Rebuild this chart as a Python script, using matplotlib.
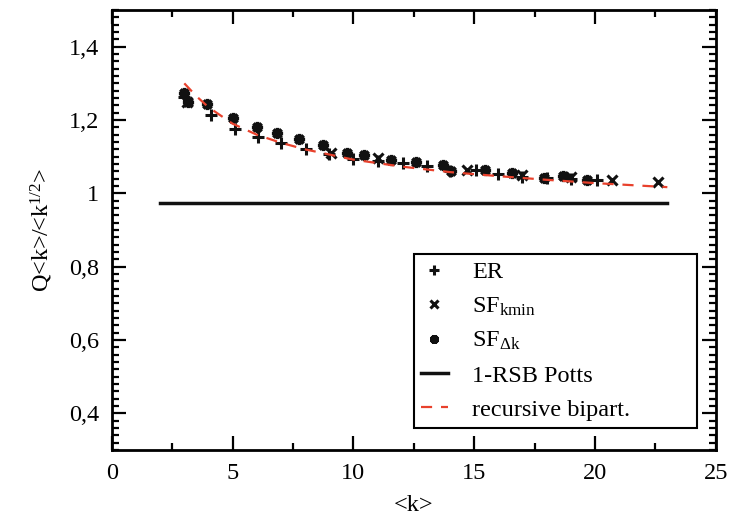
import matplotlib
matplotlib.use("Agg")
import matplotlib.pyplot as plt
from matplotlib.ticker import MultipleLocator, FuncFormatter

plt.rcParams['font.family'] = 'Liberation Serif'
plt.rcParams['mathtext.fontset'] = 'custom'
plt.rcParams['mathtext.rm'] = 'Liberation Serif'
plt.rcParams['mathtext.it'] = 'Liberation Serif:italic'

# ER graphs
er_k = [3.0, 4.1, 5.09, 6.04, 7.0, 8.03, 9.0, 10.0, 11.0, 12.04, 13.04, 14.0,
        15.07, 16.0, 17.0, 18.0, 19.0, 20.07]
er_q = [1.262, 1.214, 1.175, 1.154, 1.137, 1.121, 1.108, 1.094, 1.088, 1.083,
        1.075, 1.062, 1.064, 1.053, 1.045, 1.042, 1.038, 1.036]

# scale free, varying kmin
sfk_k = [3.1, 9.06, 11.0, 14.7, 17.0, 19.0, 20.7, 22.6]
sfk_q = [1.250, 1.110, 1.096, 1.064, 1.050, 1.044, 1.036, 1.031]

# scale free, varying delta k
sfd_k = [3.0, 3.15, 3.93, 5.0, 6.0, 6.83, 7.75, 8.73, 9.73, 10.43, 11.55, 12.6,
         13.7, 14.03, 15.44, 16.56, 17.9, 18.67, 19.66]
sfd_q = [1.274, 1.249, 1.244, 1.205, 1.181, 1.165, 1.147, 1.132, 1.110, 1.105,
         1.091, 1.085, 1.077, 1.060, 1.064, 1.056, 1.042, 1.047, 1.036]

# 1-RSB Potts level
potts_k = [2, 23]
potts_q = [0.973, 0.973]

# recursive bipartitioning
rb_k = [3, 3.5, 4, 5, 6, 7, 8, 10, 12, 14, 16, 18, 20, 23]
rb_q = [1.30, 1.265, 1.235, 1.19, 1.16, 1.138, 1.12, 1.092, 1.073, 1.058,
        1.047, 1.037, 1.028, 1.017]

fig = plt.figure(figsize=(7.31, 5.27), dpi=100)
ax = fig.add_axes([0.153, 0.146, 0.826, 0.835])

ax.plot(er_k, er_q, ls='none', marker='+', ms=9, mew=2.2, color='#111111', label='ER')
ax.plot(sfk_k, sfk_q, ls='none', marker='x', ms=6.5, mew=2.2, color='#111111',
        label=r'SF$_{\rm kmin}$')
ax.plot(sfd_k, sfd_q, ls='none', marker=(8, 2, 0), ms=8, mew=2.4, color='#111111',
        label=r'SF$_{\Delta\rm k}$')
ax.plot(potts_k, potts_q, color='#111111', lw=2.5, label='1-RSB Potts')
ax.plot(rb_k, rb_q, color='#e8412c', lw=1.6, dashes=(5, 4), label='recursive bipart.')

ax.set_xlim(0, 25)
ax.set_ylim(0.3, 1.5)
ax.xaxis.set_major_locator(MultipleLocator(5))
ax.xaxis.set_minor_locator(MultipleLocator(2.5))
ax.yaxis.set_major_locator(MultipleLocator(0.2))
ax.yaxis.set_minor_locator(MultipleLocator(0.02))
ax.yaxis.set_major_formatter(FuncFormatter(lambda v, p: f"{v:g}".replace('.', ',')))
ax.tick_params(which='both', direction='in', top=True, right=True, labelsize=17.5, width=1.6)
ax.tick_params(which='major', length=10, pad=9)
ax.tick_params(which='minor', length=5)
for s in ax.spines.values():
    s.set_linewidth(2)

ax.set_xlabel('<k>', fontsize=17.5, labelpad=8)
ax.set_ylabel(r'Q<k>/<k$^{1/2}$>', fontsize=17.5, labelpad=10)

# legend box stretched over the lower right part of the axes
leg = ax.legend(loc='lower left', bbox_to_anchor=(0.5, 0.05, 0.469, 0.39), mode='expand',
                fontsize=17.5, frameon=True, fancybox=False, framealpha=1,
                edgecolor='black', handlelength=1.1, handletextpad=1.0,
                labelspacing=0.5, borderpad=0.3, borderaxespad=0, markerscale=0.8)
leg.get_frame().set_linewidth(1.5)

fig.savefig('out.png', dpi=100)
